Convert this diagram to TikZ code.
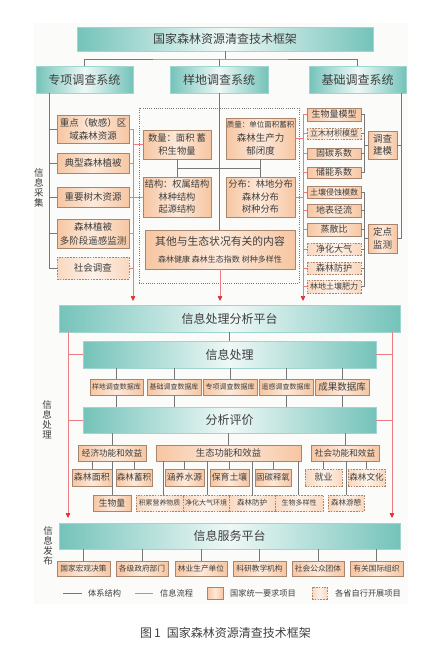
\documentclass[tikz,border=0pt]{standalone}
\usepackage{fontspec}
\setmainfont{Noto Sans CJK SC}
\usetikzlibrary{arrows.meta}
\definecolor{tealc}{HTML}{74C3BA}
\definecolor{tealm}{HTML}{EEF8F6}
\definecolor{tealb}{HTML}{9ED6CF}
\definecolor{ore}{HTML}{F6C6A2}
\definecolor{orm}{HTML}{FDE9DA}
\definecolor{orb}{HTML}{A9856E}
\definecolor{ode}{HTML}{F9D8C0}
\definecolor{odm}{HTML}{FDF1E8}
\definecolor{gln}{HTML}{777777}
\definecolor{rln}{HTML}{EC7C84}
\definecolor{rar}{HTML}{E52D2D}
\definecolor{txt}{HTML}{3F3F3F}
\definecolor{bgc}{HTML}{FBFBFA}
\newcommand\fsz[2]{\fontsize{#1pt}{#2pt}\selectfont}
\newcommand\mybx[7]{\node[#2, minimum width={(#5-#3)*1pt}, minimum height={(#6-#4)*1pt}] (#1) at ({(#3+#5)/2},{(#4+#6)/2}) {#7};}
\tikzset{
  nb/.style={inner sep=0pt, outer sep=0pt, align=center, text=txt, line width=0.6pt},
  tbox/.style={nb, draw=tealb, left color=tealc, right color=tealc, middle color=tealm, font=\fsz{12}{14}},
  obox/.style={nb, draw=orb, left color=ore, right color=ore, middle color=orm},
  dbox/.style={nb, draw=orb, dash pattern=on 1.6pt off 1.2pt, left color=ode, right color=ode, middle color=odm},
  dotb/.style={nb, draw=gln, line width=0.6pt, dash pattern=on 0.8pt off 1.4pt},
  gl/.style={draw=gln, line width=0.7pt},
  rl/.style={draw=rln, line width=0.7pt},
  rarr/.style={rl, -{Triangle[width=4.5pt,length=5pt,color=rar,fill=rar]}},
  vlab/.style={font=\fsz{9.5}{10}, text=txt, align=center, inner sep=0pt},
  ltxt/.style={font=\fsz{8.2}{10}, text=txt, anchor=west, inner sep=0pt}
}
\begin{document}
\begin{tikzpicture}[x=1pt,y=-1pt]
\useasboundingbox (0,0) rectangle (433,657);
\fill[bgc] (34,23) rectangle (408,604);
% top level
\mybx{T}{tbox}{77}{27}{373}{51}{国家森林资源清查技术框架}
\mybx{S1}{tbox}{36}{66}{133}{93}{专项调查系统}
\mybx{S2}{tbox}{170}{66}{268}{93}{样地调查系统}
\mybx{S3}{tbox}{309}{66}{406}{93}{基础调查系统}
% left column
\mybx{A1}{obox,font=\fsz{9.5}{13}}{57}{115}{129}{143}{重点（敏感）区\\域森林资源}
\mybx{A2}{obox,font=\fsz{9.5}{11}}{57}{153}{129}{173}{典型森林植被}
\mybx{A3}{obox,font=\fsz{9.5}{11}}{57}{187}{129}{207}{重要树木资源}
\mybx{A4}{obox,font=\fsz{9.5}{14}}{57}{219}{129}{248}{森林植被\\多阶段遥感监测}
\mybx{A5}{dbox,font=\fsz{9.5}{11}}{57}{257}{129}{279}{社会调查}
% middle column
\mybx{D}{dotb}{139}{108}{299}{283}{}
\mybx{B1}{obox,font=\fsz{9.3}{13}}{143}{130}{211}{159}{数量：面积 蓄\\积生物量}
\mybx{B2}{obox,font=\fsz{9.5}{13.5}}{226}{118}{295}{159}{{\fsz{7.5}{9}质量：单位面积蓄积}\\森林生产力\\郁闭度}
\mybx{B3}{obox,font=\fsz{9.2}{12.5}}{143}{177}{211}{217}{结构：权属结构\\林种结构\\起源结构}
\mybx{B4}{obox,font=\fsz{9.2}{12.5}}{226}{177}{295}{217}{分布：林地分布\\森林分布\\树种分布}
\mybx{B5}{obox,font=\fsz{10.8}{13}}{145}{230}{295}{269}{其他与生态状况有关的内容\\[4pt]{\fsz{8}{10}森林健康 森林生态指数 树种多样性}}
% right column
\mybx{C1}{obox,font=\fsz{9}{10}}{307}{108}{361}{121}{生物量模型}
\mybx{C2}{dbox,font=\fsz{8}{10}}{307}{128}{361}{139}{立木材积模型}
\mybx{C3}{obox,font=\fsz{9}{10}}{307}{148}{361}{159}{固碳系数}
\mybx{C4}{obox,font=\fsz{9}{10}}{307}{167}{361}{178}{储能系数}
\mybx{C5}{obox,font=\fsz{8}{10}}{307}{186}{361}{198}{土壤侵蚀模数}
\mybx{C6}{obox,font=\fsz{9}{10}}{307}{204}{361}{217}{地表径流}
\mybx{C7}{obox,font=\fsz{9}{10}}{307}{223}{361}{236}{蒸散比}
\mybx{C8}{dbox,font=\fsz{9}{10}}{307}{243}{361}{255}{净化大气}
\mybx{C9}{dbox,font=\fsz{9}{10}}{307}{262}{361}{274}{森林防护}
\mybx{C10}{dbox,font=\fsz{8}{10}}{307}{280}{361}{293}{林地土壤肥力}
\mybx{M1}{obox,font=\fsz{9.5}{12.5}}{368}{131}{397}{159}{调查\\建模}
\mybx{M2}{obox,font=\fsz{9.5}{12.5}}{368}{224}{397}{253}{定点\\监测}
% processing
\mybx{P1}{tbox}{59}{305}{400}{332}{信息处理分析平台}
\mybx{P2}{tbox}{83}{341}{376}{368}{信息处理}
\mybx{E1}{obox,font=\fsz{7}{9}}{90}{379}{143}{395}{样地调查数据库}
\mybx{E2}{obox,font=\fsz{7}{9}}{147}{379}{201}{395}{基础调查数据库}
\mybx{E3}{obox,font=\fsz{7}{9}}{203}{379}{257}{395}{专项调查数据库}
\mybx{E4}{obox,font=\fsz{7}{9}}{259}{379}{313}{395}{遥感调查数据库}
\mybx{E5}{obox,font=\fsz{9.5}{11}}{315}{379}{369}{395}{成果数据库}
\mybx{Q}{tbox}{83}{407}{376}{433}{分析评价}
\mybx{F1}{obox,font=\fsz{8.6}{10}}{78}{445}{146}{461}{经济功能和效益}
\mybx{F2}{obox,font=\fsz{9.3}{10}}{156}{445}{301}{461}{生态功能和效益}
\mybx{F3}{obox,font=\fsz{8.6}{10}}{311}{445}{379}{461}{社会功能和效益}
\mybx{G1}{obox,font=\fsz{9}{10}}{72}{469}{112}{486}{森林面积}
\mybx{G2}{obox,font=\fsz{8.6}{10}}{116}{469}{152}{486}{森林蓄积}
\mybx{G3}{obox,font=\fsz{8.8}{10}}{93}{495}{131}{511}{生物量}
\mybx{H1}{obox,font=\fsz{8.8}{10}}{165}{469}{204}{486}{涵养水源}
\mybx{H2}{obox,font=\fsz{8.8}{10}}{210}{469}{249}{486}{保育土壤}
\mybx{H3}{obox,font=\fsz{8.4}{10}}{255}{469}{291}{486}{固碳释氧}
\mybx{H4}{dbox,font=\fsz{6.9}{9}}{136}{495}{183}{511}{积累营养物质}
\mybx{H5}{dbox,font=\fsz{7}{9}}{183}{495}{229}{511}{净化大气环境}
\mybx{H6}{dbox,font=\fsz{7.5}{9}}{229}{495}{275}{511}{森林防护}
\mybx{H7}{dbox,font=\fsz{7}{9}}{275}{495}{323}{511}{生物多样性}
\mybx{K1}{dbox,font=\fsz{9}{10}}{305}{469}{342}{486}{就业}
\mybx{K2}{dbox,font=\fsz{8.6}{10}}{348}{469}{385}{486}{森林文化}
\mybx{K3}{dbox,font=\fsz{7.5}{9}}{328}{495}{364}{511}{森林游憩}
% service
\mybx{P3}{tbox}{59}{523}{400}{549}{信息服务平台}
\mybx{L1}{obox,font=\fsz{7.7}{9}}{57}{561}{110}{576}{国家宏观决策}
\mybx{L2}{obox,font=\fsz{7.7}{9}}{116}{561}{168}{576}{各级政府部门}
\mybx{L3}{obox,font=\fsz{7.7}{9}}{175}{561}{227}{576}{林业生产单位}
\mybx{L4}{obox,font=\fsz{7.7}{9}}{233}{561}{286}{576}{科研教学机构}
\mybx{L5}{obox,font=\fsz{7.7}{9}}{292}{561}{344}{576}{社会公众团体}
\mybx{L6}{obox,font=\fsz{7.7}{9}}{350}{561}{403}{576}{有关国际组织}
% vertical labels
\node[vlab] (V1) at (39,187.5) {信\\息\\采\\集};
\node[vlab] (V2) at (47,420) {信\\息\\处\\理};
\node[vlab] (V3) at (48,545.5) {信\\息\\发\\布};
% ---------- connectors ----------
\coordinate (j0) at (220,59);
\draw[gl] (T.south) -- (T.south |- j0);
\draw[gl] (S1.north) |- (j0) -| (S3.north);
\draw[gl] (S2.north) -- (S2.north |- j0);
% left
\coordinate (l0) at (49,93);
\draw[gl] (l0) |- (A5.west);
\foreach \n in {A1,A2,A3,A4} \draw[gl] (\n.west) -- (\n.west -| l0);
\coordinate (r1) at (133,0);
\draw[rarr, shorten >=4pt] (A1.east -| r1) -- (r1 |- P1.north);
\foreach \n in {A1,A2,A3,A4,A5} \draw[rl] (\n.east) -- (\n.east -| r1);
\draw[rl] (B1.west) -- (B1.west -| r1);
\draw[rl] (B3.west) -- (B3.west -| r1);
% middle
\coordinate (h1) at (219,168);
\draw[gl] (S2.south) -- (S2.south |- B5.north);
\draw[gl] (B1.south) -- (B3.north);
\draw[gl] (B2.south) -- (B4.north);
\draw[gl] (B1.south |- h1) -- (B2.south |- h1);
\draw[rarr, shorten >=4pt] (B5.south) -- (B5.south |- P1.north);
% right
\coordinate (r3) at (303,0);
\draw[rarr, shorten >=4pt] (C1.west -| r3) -- (r3 |- P1.north);
\foreach \i in {1,...,10} \draw[rl] (C\i.west) -- (C\i.west -| r3);
\draw[rl] (B2.east) -- (B2.east -| r3);
\draw[rl] (B4.east) -- (B4.east -| r3);
\coordinate (bk) at (364,0);
\draw[gl] (C1.east) -| (C4.east -| bk) -- (C4.east);
\foreach \i in {2,3} \draw[gl] (C\i.east) -- (C\i.east -| bk);
\draw[gl] (M1.west) -- (M1.west -| bk);
\draw[gl] (C5.east) -| (C10.east -| bk) -- (C10.east);
\foreach \i in {6,...,9} \draw[gl] (C\i.east) -- (C\i.east -| bk);
\draw[gl] (M2.west) -- (M2.west -| bk);
\coordinate (rr) at (401,93);
\draw[gl] (rr) |- (M2.east);
\draw[gl] (M1.east) -- (M1.east -| rr);
% processing
\draw[gl] (P1.south) -- (P2.north);
\coordinate (rL) at (68,332);
\coordinate (rR) at (392,332);
\draw[rarr, shorten >=5pt] (rL) -- (rL |- P3.north);
\draw[rarr, shorten >=5pt] (rR) -- (rR |- P3.north);
\draw[rl] (P2.west) -- (P2.west -| rL);
\draw[rl] (Q.west) -- (Q.west -| rL);
\draw[rl] (P2.east) -- (P2.east -| rR);
\draw[rl] (Q.east) -- (Q.east -| rR);
\foreach \i in {1,...,5} \draw[gl] (E\i.north) -- (E\i.north |- P2.south);
\foreach \i in {1,2,4,5} \draw[gl] (E\i.south) -- (E\i.south |- Q.north);
\foreach \n in {F1,F2,F3} \draw[gl] (\n.north) -- (\n.north |- Q.south);
\foreach \n in {G1,G2,G3} \draw[gl] (\n.north) -- (\n.north |- F1.south);
\foreach \n in {H1,H2,H3} \draw[gl] (\n.north) -- (\n.north |- F2.south);
\coordinate (xh4) at (163,0);
\coordinate (xh5) at (207,0);
\coordinate (xh6) at (252,0);
\coordinate (xh7) at (298,0);
\draw[gl] (H4.north -| xh4) -- (F2.south -| xh4);
\draw[gl] (H5.north -| xh5) -- (F2.south -| xh5);
\draw[gl] (H6.north -| xh6) -- (F2.south -| xh6);
\draw[gl] (H7.north -| xh7) -- (F2.south -| xh7);
\foreach \n in {K1,K2,K3} \draw[gl] (\n.north) -- (\n.north |- F3.south);
\foreach \i in {1,...,6} \draw[gl] (L\i.north) -- (L\i.north |- P3.south);
% legend
\draw[gl] (63,593) -- (82,593);
\node[ltxt] (lt1) at (88,593) {体系结构};
\draw[rl] (135,593) -- (153,593);
\node[ltxt] (lt2) at (160,593) {信息流程};
\mybx{lb1}{obox}{207}{587}{223}{599}{}
\node[ltxt] (lt3) at (230,593) {国家统一要求项目};
\mybx{lb2}{dbox}{312}{587}{327}{599}{}
\node[ltxt] (lt4) at (335,593) {各省自行开展项目};
% caption
\node[font=\fsz{12}{14}, text=txt, inner sep=0pt] (cap) at (225.5,633) {图\,1\hspace{0.5em}国家森林资源清查技术框架};
\end{tikzpicture}
\end{document}
